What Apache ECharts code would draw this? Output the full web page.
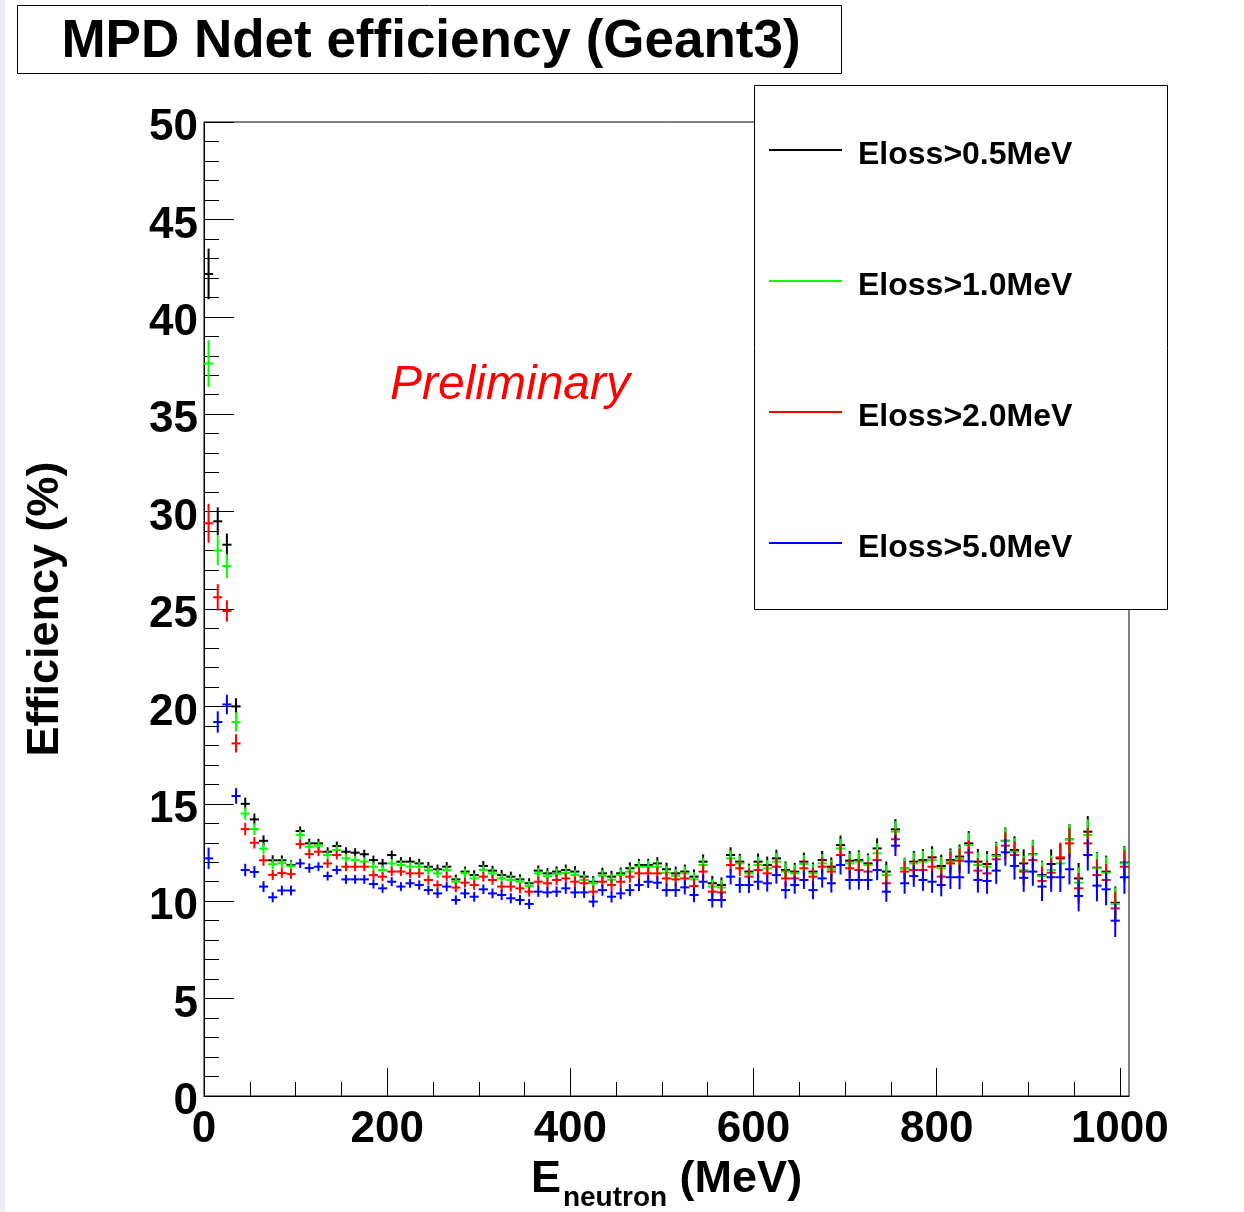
<!DOCTYPE html>
<html>
<head>
<meta charset="utf-8">
<title>MPD Ndet efficiency (Geant3)</title>
<script src="https://cdn.jsdelivr.net/npm/echarts@6/dist/echarts.min.js"></script>
<style>
  html, body { margin: 0; padding: 0; background: #ffffff; }
  #chart { width: 1244px; height: 1212px; }
</style>
</head>
<body>
<div id="chart"></div>
<script>
// Neutron energy bin centres (MeV), 10 MeV wide bins
const binCenters = [
  5, 15, 25, 35, 45, 55, 65, 75, 85, 95,
  105, 115, 125, 135, 145, 155, 165, 175, 185, 195,
  205, 215, 225, 235, 245, 255, 265, 275, 285, 295,
  305, 315, 325, 335, 345, 355, 365, 375, 385, 395,
  405, 415, 425, 435, 445, 455, 465, 475, 485, 495,
  505, 515, 525, 535, 545, 555, 565, 575, 585, 595,
  605, 615, 625, 635, 645, 655, 665, 675, 685, 695,
  705, 715, 725, 735, 745, 755, 765, 775, 785, 795,
  805, 815, 825, 835, 845, 855, 865, 875, 885, 895,
  905, 915, 925, 935, 945, 955, 965, 975, 985, 995, 1005
];

// Detection efficiency (%) for each energy-loss threshold
const effEloss05 = [
  42.2, 29.5, 28.3, 20.0, 15.0, 14.2, 13.1, 12.1, 12.1, 11.85,
  13.6, 12.97, 12.97, 12.54, 12.83, 12.54, 12.49, 12.41, 12.11, 11.94,
  12.37, 12.03, 12.03, 11.94, 11.77, 11.64, 11.77, 11.12, 11.52, 11.34,
  11.81, 11.57, 11.34, 11.26, 11.12, 10.92, 11.57, 11.43, 11.52, 11.6,
  11.52, 11.26, 11.0, 11.43, 11.26, 11.43, 11.69, 11.86, 11.86, 11.94,
  11.64, 11.43, 11.52, 11.26, 12.03, 10.92, 10.83, 12.37, 12.03, 11.52,
  12.03, 11.86, 12.2, 11.6, 11.52, 12.03, 11.52, 12.11, 11.77, 12.88,
  12.08, 12.11, 11.94, 12.71, 11.52, 13.69, 11.69, 12.03, 12.11, 12.25,
  11.81, 12.11, 12.29, 12.97, 12.03, 11.91, 12.37, 13.1, 12.63, 11.94,
  12.42, 11.34, 11.91, 12.2, 13.18, 11.17, 13.57, 11.72, 11.52, 9.92, 11.98
];
const effEloss10 = [
  37.6, 28.0, 27.2, 19.2, 14.5, 13.7, 12.7, 11.9, 11.95, 11.8,
  13.4, 12.8, 12.85, 12.37, 12.63, 12.2, 12.11, 12.03, 11.77, 11.6,
  11.94, 11.86, 11.77, 11.77, 11.6, 11.43, 11.6, 11.0, 11.43, 11.17,
  11.6, 11.43, 11.17, 11.09, 11.0, 10.78, 11.43, 11.29, 11.4, 11.45,
  11.34, 11.09, 10.92, 11.3, 11.1, 11.35, 11.52, 11.77, 11.77, 11.77,
  11.46, 11.3, 11.43, 11.12, 11.86, 10.75, 10.7, 12.2, 11.94, 11.43,
  11.86, 11.69, 12.03, 11.52, 11.43, 11.91, 11.43, 11.94, 11.64, 12.71,
  11.94, 12.03, 11.86, 12.46, 11.34, 13.57, 11.69, 11.94, 12.03, 12.11,
  11.69, 12.03, 12.2, 12.88, 11.86, 11.77, 12.32, 13.08, 12.54, 11.6,
  12.4, 11.29, 11.6, 11.94, 13.18, 10.95, 13.4, 11.69, 11.46, 9.86, 11.94
];
const effEloss20 = [
  29.4, 25.6, 24.9, 18.1, 13.7, 13.0, 12.1, 11.35, 11.45, 11.4,
  12.93, 12.42, 12.54, 11.94, 12.37, 11.77, 11.77, 11.77, 11.34, 11.26,
  11.52, 11.52, 11.43, 11.43, 11.09, 10.83, 11.26, 10.7, 10.95, 10.83,
  11.26, 11.09, 10.75, 10.75, 10.66, 10.49, 11.0, 10.92, 11.09, 11.17,
  11.0, 10.92, 10.49, 11.0, 10.83, 11.0, 11.26, 11.43, 11.43, 11.43,
  11.17, 11.12, 11.17, 10.78, 11.52, 10.49, 10.45, 11.86, 11.69, 11.26,
  11.6, 11.43, 11.77, 11.17, 11.17, 11.69, 11.26, 11.77, 11.52, 12.37,
  11.69, 11.6, 11.52, 12.11, 10.92, 13.18, 11.52, 11.6, 11.6, 11.77,
  11.26, 11.94, 12.08, 12.5, 11.57, 11.43, 12.15, 12.85, 12.37, 11.52,
  12.11, 11.04, 11.46, 12.25, 12.97, 10.66, 12.97, 11.34, 11.09, 9.63, 11.77
];
const effEloss50 = [
  12.2, 19.2, 20.1, 15.4, 11.6, 11.5, 10.75, 10.2, 10.55, 10.55,
  11.94, 11.7, 11.77, 11.29, 11.6, 11.12, 11.12, 11.12, 10.88, 10.66,
  11.0, 10.75, 10.92, 10.83, 10.57, 10.4, 10.75, 10.06, 10.4, 10.23,
  10.61, 10.4, 10.32, 10.15, 10.06, 9.86, 10.49, 10.45, 10.49, 10.66,
  10.45, 10.45, 9.98, 10.57, 10.23, 10.4, 10.57, 10.83, 11.0, 10.95,
  10.57, 10.57, 10.71, 10.32, 11.0, 10.06, 10.06, 11.26, 10.83, 10.83,
  11.0, 10.92, 11.34, 10.57, 10.83, 11.09, 10.57, 11.17, 10.92, 11.86,
  11.09, 11.09, 11.09, 11.6, 10.49, 12.85, 10.92, 11.29, 11.09, 11.0,
  10.83, 11.23, 11.23, 12.04, 11.09, 11.04, 11.57, 12.51, 11.81, 11.2,
  11.52, 10.75, 11.23, 11.23, 11.64, 10.27, 12.37, 10.8, 10.61, 9.0, 11.23
];

// Statistical uncertainty (%) per bin, shared by the thresholds
const errStat = [
  0.5, 0.5, 0.45, 0.4, 0.32, 0.3, 0.28, 0.26, 0.25, 0.25,
  0.24, 0.24, 0.23, 0.23, 0.23, 0.23, 0.23, 0.23, 0.23, 0.23,
  0.23, 0.23, 0.23, 0.24, 0.24, 0.24, 0.24, 0.24, 0.25, 0.25,
  0.25, 0.25, 0.26, 0.26, 0.26, 0.26, 0.27, 0.27, 0.27, 0.28,
  0.28, 0.28, 0.29, 0.29, 0.3, 0.3, 0.31, 0.31, 0.32, 0.32,
  0.34, 0.35, 0.36, 0.37, 0.37, 0.38, 0.39, 0.4, 0.4, 0.41,
  0.42, 0.43, 0.44, 0.44, 0.45, 0.46, 0.47, 0.47, 0.48, 0.49,
  0.5, 0.5, 0.51, 0.52, 0.52, 0.53, 0.54, 0.55, 0.56, 0.57,
  0.58, 0.6, 0.62, 0.63, 0.65, 0.66, 0.68, 0.69, 0.7, 0.72,
  0.73, 0.74, 0.75, 0.76, 0.78, 0.79, 0.8, 0.81, 0.82, 0.84, 0.85
];
// Larger uncertainties of the lowest-energy bins, per threshold
const errLowEloss05 = [1.3, 0.72, 0.57, 0.42];
const errLowEloss10 = [1.2, 0.75, 0.62, 0.5];
const errLowEloss20 = [1.0, 0.68, 0.55, 0.47];
const errLowEloss50 = [0.55, 0.55, 0.5, 0.4];

const seriesNames = ['Eloss>0.5MeV', 'Eloss>1.0MeV', 'Eloss>2.0MeV', 'Eloss>5.0MeV'];
const seriesColors = ['#000000', '#00ff00', '#ff0000', '#0000ff'];
const xMajorTicks = [0, 200, 400, 600, 800, 1000];
const xMinorTicks = [50, 100, 150, 250, 300, 350, 450, 500, 550, 650, 700, 750, 850, 900, 950];

const FONT = '"Liberation Sans", Arial, Helvetica, sans-serif';
const HALF_BIN = 5;

function buildPoints(values, errLow) {
  return binCenters.map((c, i) => [c, values[i], i < errLow.length ? errLow[i] : errStat[i]]);
}

// Each bin is drawn as a cross: bin width horizontally, +/- error vertically
function renderCross(params, api) {
  const x = api.value(0);
  const y = api.value(1);
  const e = api.value(2);
  const l = api.coord([x - HALF_BIN, y]);
  const r = api.coord([x + HALF_BIN, y]);
  const t = api.coord([x, y + e]);
  const b = api.coord([x, y - e]);
  const style = { stroke: api.visual('color'), lineWidth: 2 };
  return {
    type: 'group',
    children: [
      { type: 'line', shape: { x1: l[0], y1: l[1], x2: r[0], y2: r[1] }, style: style },
      { type: 'line', shape: { x1: t[0], y1: t[1], x2: b[0], y2: b[1] }, style: style }
    ]
  };
}

const valueSets = [effEloss05, effEloss10, effEloss20, effEloss50];
const lowErrSets = [errLowEloss05, errLowEloss10, errLowEloss20, errLowEloss50];

const series = valueSets.map((vals, k) => ({
  name: seriesNames[k],
  type: 'custom',
  xAxisIndex: 0,
  yAxisIndex: 0,
  renderItem: renderCross,
  itemStyle: { color: seriesColors[k] },
  encode: { x: 0, y: 1 },
  data: buildPoints(vals, lowErrSets[k]),
  z: 2 + k,
  animation: false
}));

const legendY = [150, 281, 412, 543];
const legendGraphics = [
  {
    type: 'rect', z: 100,
    shape: { x: 754.5, y: 85.5, width: 413, height: 524 },
    style: { fill: '#ffffff', stroke: '#000000', lineWidth: 1 }
  }
];
seriesNames.forEach((name, k) => {
  legendGraphics.push({
    type: 'line', z: 101,
    shape: { x1: 769, y1: legendY[k], x2: 842, y2: legendY[k] },
    style: { stroke: seriesColors[k], lineWidth: 2 }
  });
  legendGraphics.push({
    type: 'text', z: 101, x: 858, y: legendY[k] + 5,
    style: {
      text: name, fill: '#000000', font: 'bold 32px ' + FONT,
      textAlign: 'left', textVerticalAlign: 'middle'
    }
  });
});

const chart = echarts.init(document.getElementById('chart'), null, { renderer: 'canvas' });

chart.setOption({
  backgroundColor: '#ffffff',
  animation: false,
  grid: {
    left: 204, right: 115, top: 122, bottom: 116,
    outerBoundsMode: 'none', containLabel: false,
    show: true, borderColor: '#000000', borderWidth: 1, backgroundColor: 'transparent'
  },
  xAxis: [
    {
      type: 'value', min: 0, max: 1010, interval: 200,
      name: '{e|E}{sub|neutron}{e| (MeV)}',
      nameLocation: 'middle', nameGap: 17,
      nameTextStyle: {
        rich: {
          e: { fontSize: 45, fontWeight: 'bold', fontFamily: FONT, color: '#000', lineHeight: 45, verticalAlign: 'top' },
          sub: { fontSize: 28, fontWeight: 'bold', fontFamily: FONT, color: '#000', lineHeight: 28, verticalAlign: 'top', padding: [27, 0, 0, 2] }
        }
      },
      axisLine: { show: true, lineStyle: { color: '#000000', width: 1 } },
      axisTick: { show: true, inside: true, length: 28, customValues: xMajorTicks, lineStyle: { color: '#000000', width: 1 } },
      axisLabel: {
        customValues: xMajorTicks, color: '#000000', fontSize: 44, fontWeight: 'bold', fontFamily: FONT, margin: 12,
        formatter: function (v) { return String(v); }
      },
      splitLine: { show: false },
      minorTick: { show: false }
    },
    {
      type: 'value', min: 0, max: 1010, position: 'bottom',
      axisLine: { show: false },
      axisTick: { show: true, inside: true, length: 14, customValues: xMinorTicks, lineStyle: { color: '#000000', width: 1 } },
      axisLabel: { show: false },
      splitLine: { show: false }
    }
  ],
  yAxis: {
    type: 'value', min: 0, max: 50, interval: 5,
    name: 'Efficiency (%)',
    nameLocation: 'middle', nameRotate: 90, nameGap: 136,
    nameTextStyle: { fontSize: 45, fontWeight: 'bold', fontFamily: FONT, color: '#000000' },
    axisLine: { show: true, lineStyle: { color: '#000000', width: 1 } },
    axisTick: { show: true, inside: true, length: 30, lineStyle: { color: '#000000', width: 1 } },
    minorTick: { show: true, splitNumber: 5, length: 15, lineStyle: { color: '#000000', width: 1 } },
    axisLabel: {
      margin: 6,
      formatter: function (v) { return '{v|' + v + '}'; },
      rich: {
        v: { color: '#000000', fontSize: 44, fontWeight: 'bold', fontFamily: FONT, padding: [12, 0, 0, 0] }
      }
    },
    splitLine: { show: false },
    minorSplitLine: { show: false }
  },
  graphic: [
    {
      type: 'rect', z: 100, shape: { x: 0, y: 0, width: 5, height: 1212 },
      style: { fill: '#e9ecf0' }
    },
    {
      type: 'rect', z: 100,
      shape: { x: 17.5, y: 5.5, width: 824, height: 68 },
      style: { fill: '#ffffff', stroke: '#000000', lineWidth: 1 }
    },
    {
      type: 'text', z: 101, x: 431, y: 42,
      style: {
        text: 'MPD Ndet efficiency (Geant3)', fill: '#000000',
        font: 'bold 53px ' + FONT, textAlign: 'center', textVerticalAlign: 'middle'
      }
    },
    {
      type: 'text', z: 101, x: 390, y: 386,
      style: {
        text: 'Preliminary', fill: '#ff0000',
        font: 'italic 48px ' + FONT, textAlign: 'left', textVerticalAlign: 'middle'
      }
    }
  ].concat(legendGraphics),
  series: series
});
</script>
</body>
</html>
